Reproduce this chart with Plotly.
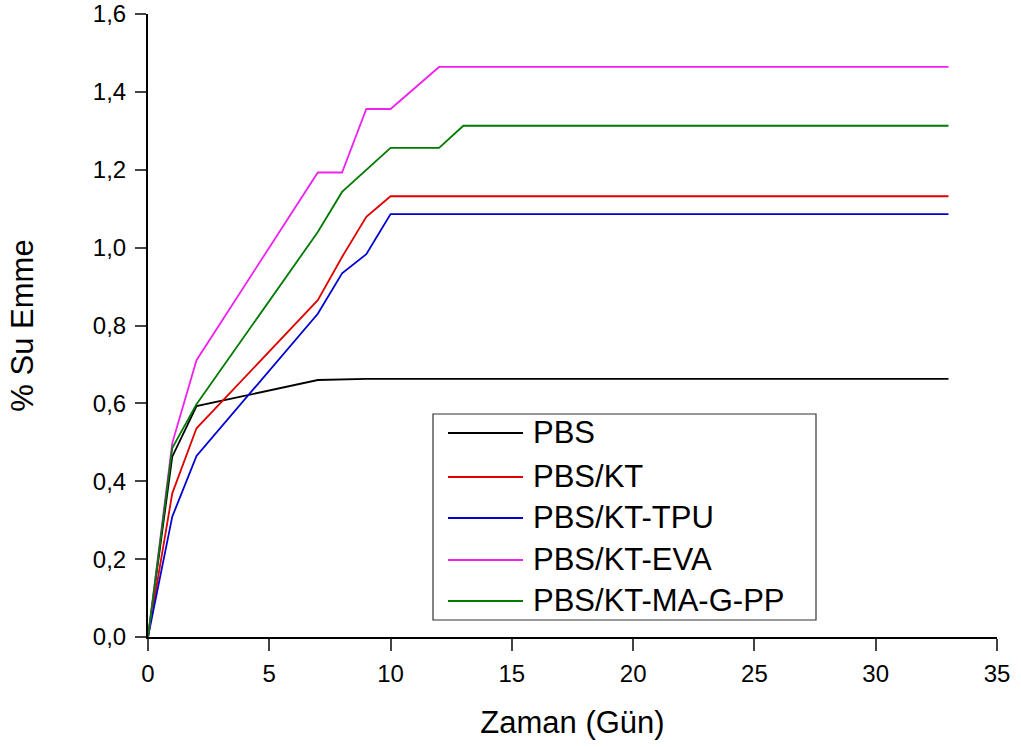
import plotly.graph_objects as go

# ---- data ----
series_names = ["PBS", "PBS/KT", "PBS/KT-TPU", "PBS/KT-EVA", "PBS/KT-MA-G-PP"]
series_colors = ["#000000", "#e00000", "#0000d0", "#ee22ee", "#007a00"]

pbs_x = [0, 1, 2, 7, 9, 33]
pbs_y = [0.0, 0.463, 0.593, 0.660, 0.663, 0.663]

kt_x = [0, 1, 2, 7, 8, 9, 10, 33]
kt_y = [0.0, 0.369, 0.536, 0.865, 0.976, 1.079, 1.132, 1.132]

tpu_x = [0, 1, 2, 7, 8, 9, 10, 33]
tpu_y = [0.0, 0.309, 0.465, 0.830, 0.934, 0.983, 1.086, 1.086]

eva_x = [0, 1, 2, 7, 8, 9, 10, 12, 33]
eva_y = [0.0, 0.498, 0.711, 1.193, 1.193, 1.356, 1.356, 1.464, 1.464]

ma_x = [0, 1, 2, 7, 8, 9, 10, 12, 13, 33]
ma_y = [0.0, 0.485, 0.598, 1.040, 1.143, 1.199, 1.256, 1.256, 1.313, 1.313]

xs = [pbs_x, kt_x, tpu_x, eva_x, ma_x]
ys = [pbs_y, kt_y, tpu_y, eva_y, ma_y]

x_ticks = [0, 5, 10, 15, 20, 25, 30, 35]
y_ticks = [0.0, 0.2, 0.4, 0.6, 0.8, 1.0, 1.2, 1.4, 1.6]

FONT = "Arial, Liberation Sans, sans-serif"

fig = go.Figure()
for name, color, x, y in zip(series_names, series_colors, xs, ys):
    fig.add_trace(go.Scatter(x=x, y=y, mode="lines", name=name,
                             line=dict(color=color, width=1.8),
                             showlegend=False))

# plot-area geometry in pixels (for manual legend)
L, R, T, B = 148, 997, 14, 637
W, H = R - L, B - T
def px(xp):
    return (xp - L) / W
def py(yp):
    return (B - yp) / H

shapes = [dict(type="rect", xref="paper", yref="paper",
               x0=px(433), x1=px(816), y0=py(414), y1=py(620),
               line=dict(color="#333333", width=1.2), fillcolor="white", layer="above")]
annotations = []
entry_y = [433, 477, 518, 560, 601]
for name, color, ey in zip(series_names, series_colors, entry_y):
    shapes.append(dict(type="line", xref="paper", yref="paper",
                       x0=px(448), x1=px(523), y0=py(ey), y1=py(ey),
                       line=dict(color=color, width=1.8), layer="above"))
    annotations.append(dict(xref="paper", yref="paper", x=px(531), y=py(ey),
                            xanchor="left", yanchor="middle", showarrow=False,
                            text=name, yshift=1,
                            font=dict(family=FONT, size=31, color="black")))

fig.update_layout(
    width=1021, height=747,
    margin=dict(l=L, r=1021 - R, t=T, b=747 - B, autoexpand=False),
    paper_bgcolor="white", plot_bgcolor="white",
    separators=",.",
    font=dict(family=FONT, color="black"),
    shapes=shapes, annotations=annotations,
    showlegend=False,
)
fig.update_xaxes(range=[0, 35], tickvals=x_ticks, ticks="outside", ticklen=12,
                 tickwidth=2, showline=True, linewidth=2, linecolor="black",
                 showgrid=False, zeroline=False, automargin=False,
                 ticklabelstandoff=2,
                 tickfont=dict(size=24, family=FONT),
                 title=dict(text="Zaman (Gün)", font=dict(size=31, family=FONT), standoff=26))
fig.update_yaxes(range=[0, 1.6], tickvals=y_ticks, tickformat=".1f", ticks="outside",
                 ticklen=11, tickwidth=2, showline=True, linewidth=2, linecolor="black",
                 showgrid=False, zeroline=False, automargin=False,
                 ticklabelstandoff=4,
                 tickfont=dict(size=24, family=FONT),
                 title=dict(text="% Su Emme", font=dict(size=31, family=FONT), standoff=50))

fig.write_html("out.html")
